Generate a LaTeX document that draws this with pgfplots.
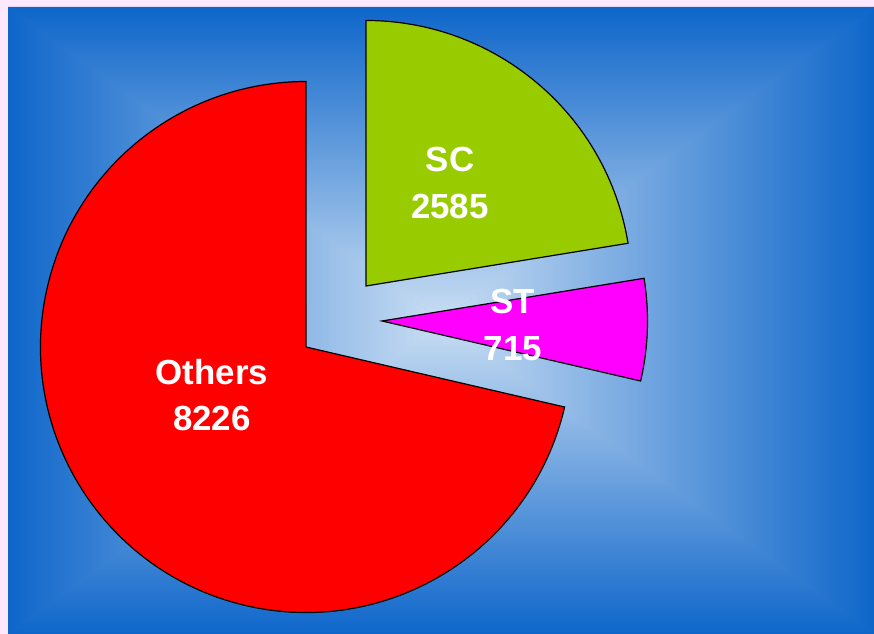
\documentclass[border=0pt]{standalone}
\usepackage{pgfplots}
\pgfplotsset{compat=1.18}
\usepackage{pgfplotstable}
\usepackage{fontspec}
\setmainfont{Liberation Sans}
\definecolor{edgeblue}{HTML}{0E66CA}
\definecolor{centerblue}{HTML}{CADEF3}
\definecolor{midblue}{HTML}{6CA2DE}
\definecolor{pageborder}{HTML}{FDE8FD}
\definecolor{scgreen}{HTML}{99CC00}
\definecolor{stpink}{HTML}{FF00FF}
\definecolor{othred}{HTML}{FF0000}

% slice values and the vertex of each exploded slice (axis units = bp)
\pgfplotstableread{
name   value cx  cy  lx  ly
SC     2585  366 348 450 451
ST     715   382 313 513 309
Others 8226  306 287 212 239
}\piedata

\begin{document}%
\pgfplotstablegetelem{0}{value}\of\piedata\let\vSC\pgfplotsretval%
\pgfplotstablegetelem{1}{value}\of\piedata\let\vST\pgfplotsretval%
\pgfplotstablegetelem{2}{value}\of\piedata\let\vOT\pgfplotsretval%
\pgfmathsetmacro{\tot}{\vSC+\vST+\vOT}%
\pgfmathsetmacro{\fSC}{\vSC/\tot}%
\pgfmathsetmacro{\fST}{\vST/\tot}%
\pgfmathsetmacro{\fOT}{\vOT/\tot}%
\pgfmathsetmacro{\aA}{90}%
\pgfmathsetmacro{\aB}{\aA-360*\fSC}%
\pgfmathsetmacro{\aC}{\aB-360*\fST}%
\pgfmathsetmacro{\aD}{\aC-360*\fOT}%
\def\R{265.5bp}%
\begin{tikzpicture}[x=1bp,y=1bp]
  \useasboundingbox (0,0) rectangle (874,634);
  % page and background box gradient
  \fill[pageborder] (0,0) rectangle (874,634);
  \fill[midblue] (8,0) rectangle (874,627);
  \begin{scope}
    \clip (8,0) -- (8,627) -- (441,313.5) -- cycle;
    \shade[left color=edgeblue, right color=centerblue] (8,0) rectangle (441,627);
  \end{scope}
  \begin{scope}
    \clip (874,0) -- (874,627) -- (441,313.5) -- cycle;
    \shade[left color=centerblue, right color=edgeblue] (441,0) rectangle (874,627);
  \end{scope}
  \begin{scope}
    \clip (5,627) -- (877,627) -- (441,313.5) -- cycle;
    \shade[top color=edgeblue, bottom color=centerblue] (8,313.5) rectangle (874,627);
  \end{scope}
  \begin{scope}
    \clip (5,0) -- (877,0) -- (441,313.5) -- cycle;
    \shade[top color=centerblue, bottom color=edgeblue] (8,0) rectangle (874,313.5);
  \end{scope}
  \begin{axis}[
    at={(0,0)}, anchor=south west,
    x=1bp, y=1bp,
    xmin=0, xmax=874, ymin=0, ymax=634,
    hide axis, clip=false,
  ]
    \filldraw[fill=scgreen, draw=black, line width=1.2bp, line join=miter]
      (axis cs:366,348) -- ++(\aA:\R) arc[start angle=\aA, end angle=\aB, radius=\R] -- cycle;
    \filldraw[fill=stpink, draw=black, line width=1.2bp, line join=miter]
      (axis cs:382,313) -- ++(\aB:\R) arc[start angle=\aB, end angle=\aC, radius=\R] -- cycle;
    \filldraw[fill=othred, draw=black, line width=1.2bp, line join=miter]
      (axis cs:306,287) -- ++(\aC:\R) arc[start angle=\aC, end angle=\aD, radius=\R] -- cycle;
    \node[text=white, font=\bfseries\fontsize{35}{48}\selectfont, align=center]
      at (axis cs:450,451) {SC\\\vSC};
    \node[text=white, font=\bfseries\fontsize{35}{48}\selectfont, align=center]
      at (axis cs:513,309) {ST\\\vST};
    \node[text=white, font=\bfseries\fontsize{35}{46}\selectfont, align=center]
      at (axis cs:212,239) {Others\\\vOT};
  \end{axis}
\end{tikzpicture}%
\end{document}
